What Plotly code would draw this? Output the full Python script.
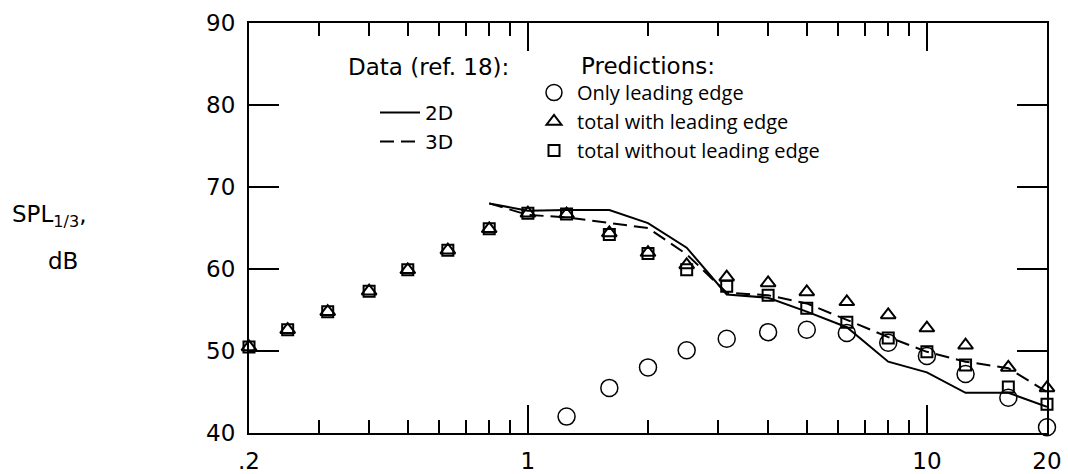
import math
import plotly.graph_objects as go

# One-third-octave band centre frequencies, kHz
freq = [0.2, 0.25, 0.315, 0.4, 0.5, 0.63, 0.8, 1.0, 1.25, 1.6, 2.0, 2.5,
        3.15, 4.0, 5.0, 6.3, 8.0, 10.0, 12.5, 16.0, 20.0]

# Measured spectra (ref. 18), 0.8 - 20 kHz
data_freq = [0.8, 1.0, 1.25, 1.6, 2.0, 2.5, 3.15, 4.0, 5.0, 6.3, 8.0, 10.0, 12.5, 16.0, 20.0]
data_2d = [68.0, 67.1, 67.2, 67.2, 65.6, 62.6, 56.9, 56.5, 54.8, 52.9, 48.7, 47.4, 44.9, 44.9, 43.2]
data_3d = [68.0, 66.6, 66.3, 65.6, 65.0, 61.8, 57.1, 56.8, 55.8, 53.8, 51.7, 49.9, 48.7, 47.9, 45.0]

# Predictions
le_freq = [1.25, 1.6, 2.0, 2.5, 3.15, 4.0, 5.0, 6.3, 8.0, 10.0, 12.5, 16.0, 20.0]
only_le = [42.0, 45.5, 48.0, 50.1, 51.5, 52.3, 52.6, 52.2, 51.0, 49.4, 47.2, 44.3, 40.7]
total_with_le = [50.5, 52.6, 54.8, 57.3, 59.9, 62.3, 64.9, 66.8, 66.7, 64.4, 62.0, 60.5,
                 59.0, 58.3, 57.2, 56.0, 54.4, 52.8, 50.7, 48.0, 45.5]
total_without_le = [50.5, 52.6, 54.8, 57.3, 59.9, 62.3, 64.9, 66.8, 66.7, 64.2, 61.9, 59.9,
                    57.9, 56.8, 55.2, 53.5, 51.6, 49.9, 48.3, 45.6, 43.5]

x_tick_vals = [0.2, 1, 10, 20]
x_tick_text = [".2", "1", "10", "20"]
x_minor_vals = [0.3, 0.4, 0.5, 0.6, 0.7, 0.8, 0.9, 2, 3, 4, 5, 6, 7, 8, 9]
y_tick_vals = [40, 50, 60, 70, 80, 90]

W, H = 1068, 474
L, R, T, B = 249, 1047, 23, 433


def px(x):
    return (x - L) / (R - L)


def py(y):
    return (B - y) / (B - T)


HELV = "DejaVu Sans"
BODY = "Open Sans"
BLACK = "black"

fig = go.Figure()

fig.add_trace(go.Scatter(
    x=data_freq, y=data_2d, mode="lines", name="2D",
    line=dict(color=BLACK, width=2), legend="legend", cliponaxis=False))
fig.add_trace(go.Scatter(
    x=data_freq, y=data_3d, mode="lines", name="3D",
    line=dict(color=BLACK, width=2, dash="14px,7px"), legend="legend", cliponaxis=False))

fig.add_trace(go.Scatter(
    x=freq, y=total_without_le, mode="markers", name="total without leading edge",
    marker=dict(symbol="square-open", size=11, color=BLACK, line=dict(width=2, color=BLACK)),
    legend="legend2", legendrank=3, cliponaxis=False))
fig.add_trace(go.Scatter(
    x=freq, y=total_with_le, mode="markers", name="total with leading edge",
    marker=dict(symbol="triangle-up-open", size=13, color=BLACK, line=dict(width=2, color=BLACK)),
    legend="legend2", legendrank=2, cliponaxis=False))
fig.add_trace(go.Scatter(
    x=le_freq, y=only_le, mode="markers", name="Only leading edge",
    marker=dict(symbol="circle-open", size=17, color=BLACK, line=dict(width=1.5, color=BLACK)),
    legend="legend2", legendrank=1, cliponaxis=False))

axis_common = dict(
    showline=True, linecolor=BLACK, linewidth=2, mirror="ticks",
    ticks="inside", tickcolor=BLACK, tickwidth=2,
    showgrid=False, zeroline=False, automargin=False,
    tickfont=dict(family=HELV, size=23, color=BLACK),
)

fig.update_xaxes(
    type="log", range=[math.log10(0.2), math.log10(20)],
    tickmode="array", tickvals=x_tick_vals, ticktext=x_tick_text,
    ticklen=28, ticklabelstandoff=6,
    minor=dict(tickmode="array", tickvals=x_minor_vals, ticks="inside",
               ticklen=13, tickwidth=2, tickcolor=BLACK, showgrid=False),
    **axis_common)
fig.update_yaxes(
    range=[40, 90], tickmode="array", tickvals=y_tick_vals,
    ticklen=30, ticklabelstandoff=7,
    **axis_common)

annotations = [
    dict(text="Data (ref. 18):", x=px(346), y=py(67), xanchor="left", yanchor="middle",
         font=dict(family=HELV, size=23, color=BLACK)),
    dict(text="Predictions:", x=px(579), y=py(66), xanchor="left", yanchor="middle",
         font=dict(family=HELV, size=23, color=BLACK)),
    dict(text="SPL<sub>1/3</sub>,", x=px(10), y=py(216), xanchor="left", yanchor="middle",
         font=dict(family=HELV, size=23, color=BLACK)),
    dict(text="dB", x=px(46), y=py(261), xanchor="left", yanchor="middle",
         font=dict(family=HELV, size=23, color=BLACK)),
]
for a in annotations:
    a.update(xref="paper", yref="paper", showarrow=False)

fig.update_layout(
    width=W, height=H,
    margin=dict(l=L, r=W - R, t=T, b=H - B),
    paper_bgcolor="white", plot_bgcolor="white",
    showlegend=True,
    legend=dict(x=px(375), y=py(93), xanchor="left", yanchor="top",
                bgcolor="rgba(0,0,0,0)", borderwidth=0, itemwidth=40,
                font=dict(family=HELV, size=20, color=BLACK)),
    legend2=dict(x=px(531), y=py(73), xanchor="left", yanchor="top",
                 bgcolor="rgba(0,0,0,0)", borderwidth=0, itemwidth=36,
                 font=dict(family=BODY, size=20, color=BLACK)),
    annotations=annotations,
)

fig.write_html("out.html")
